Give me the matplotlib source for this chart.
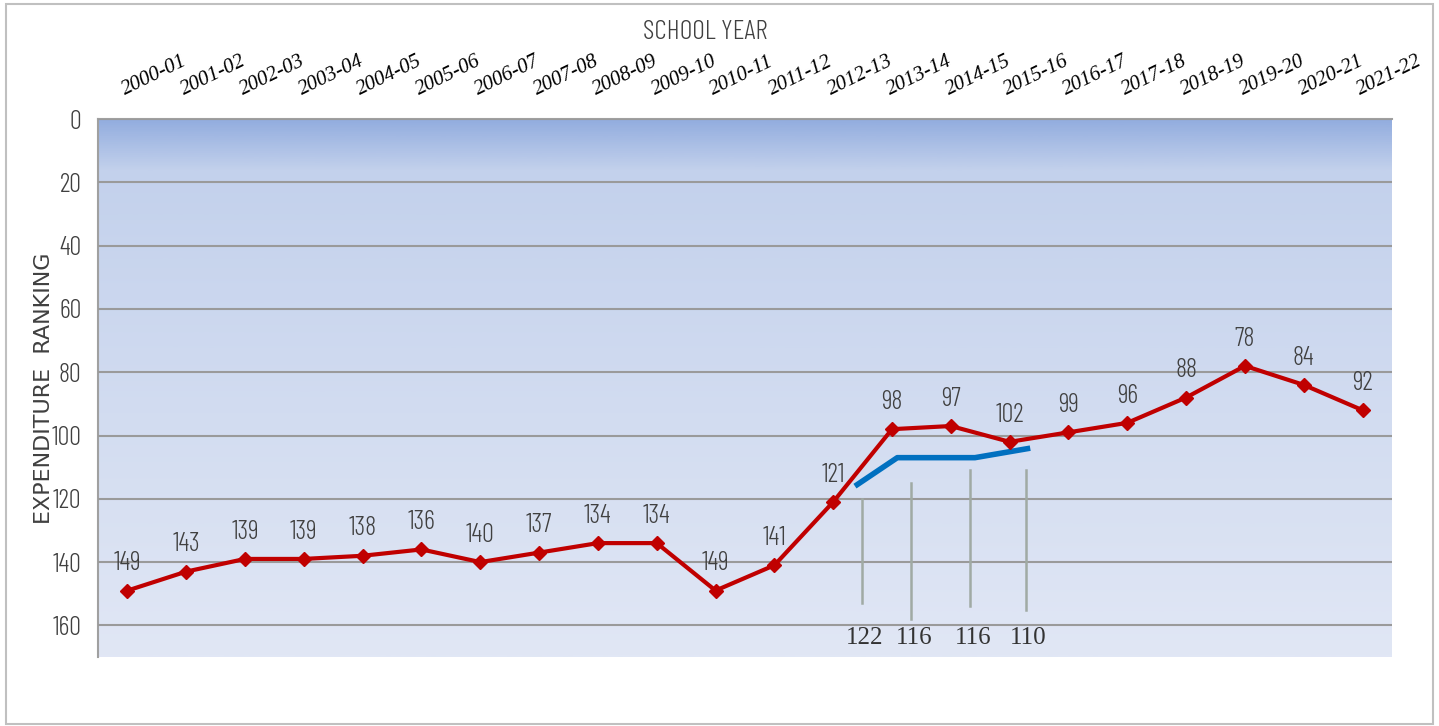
import numpy as np
from matplotlib import pyplot as plt
from matplotlib.colors import LinearSegmentedColormap
from matplotlib.patches import Rectangle

years = ["2000-01", "2001-02", "2002-03", "2003-04", "2004-05", "2005-06", "2006-07",
         "2007-08", "2008-09", "2009-10", "2010-11", "2011-12", "2012-13", "2013-14",
         "2014-15", "2015-16", "2016-17", "2017-18", "2018-19", "2019-20", "2020-21",
         "2021-22"]
ranking = [149, 143, 139, 139, 138, 136, 140, 137, 134, 134, 149, 141, 121, 98, 97,
           102, 99, 96, 88, 78, 84, 92]

# blue trend segment drawn over 2012-13 .. 2015-16
trend_x = [12.37, 13.09, 14.41, 15.35]
trend_y = [116, 107, 107, 104]

# vertical markers with their values written underneath
marker_x = [12.49, 13.33, 14.33, 15.27]
marker_top = [120, 115, 111, 111]
marker_bottom = [153, 158, 154, 155]
marker_labels = ["122", "116", "116", "110"]

narrow = ["Barlow Condensed", "DejaVu Sans"]

fig = plt.figure(figsize=(14.39, 7.26), dpi=100)
ax = fig.add_axes([0.0681, 0.0950, 0.8992, 0.7410])

x = np.arange(len(years))
ax.set_xlim(-0.5, len(years) - 0.5)
ax.set_ylim(170, 0)

# background gradient, darker blue at the top
cmap = LinearSegmentedColormap.from_list(
    "bg", [(0.0, "#93addf"), (16 / 170, "#c3d1ec"), (1.0, "#e1e7f5")])
grad = np.linspace(0, 1, 512).reshape(-1, 1)
ax.imshow(grad, cmap=cmap, aspect="auto", extent=[-0.5, len(years) - 0.5, 170, 0],
          zorder=0)

ax.set_yticks(range(0, 161, 20))
ax.yaxis.grid(True, color="#9a9a9a", linewidth=1.5, zorder=1)
ax.set_axisbelow(False)
for s in ["right", "bottom"]:
    ax.spines[s].set_visible(False)
ax.spines["left"].set_color("#a0a0a0")
ax.spines["left"].set_linewidth(1.5)
ax.spines["top"].set_color("#a0a0a0")
ax.spines["top"].set_linewidth(1.5)

ax.xaxis.tick_top()
ax.set_xticks(x, labels=years)
ax.tick_params(axis="x", length=0, pad=14)
ax.tick_params(axis="y", length=0, pad=12, labelcolor="#404040")

ax.plot(x, ranking, color="#c00000", linewidth=3, marker="D", markersize=7,
        zorder=4)
for xi, v in zip(x, ranking):
    ax.annotate(str(v), (xi, v), xytext=(0, 11), textcoords="offset points",
                ha="center", va="bottom", fontsize=19, fontweight=300,
                color="#404040", family=narrow, zorder=5)

ax.plot(trend_x, trend_y, color="#0070c0", linewidth=4, solid_capstyle="butt",
        zorder=3)
for mx, t, b, lab in zip(marker_x, marker_top, marker_bottom, marker_labels):
    ax.plot([mx, mx], [t, b], color="#a0aaa4", linewidth=1.8, zorder=3)
    ax.text(mx + 0.05, 160.5, lab, ha="center", va="top", fontsize=18,
            family="Liberation Serif", color="#333333", zorder=5)

ax.set_ylabel("EXPENDITURE  RANKING", fontsize=16, color="#404040",
              family="DejaVu Sans")
ax.yaxis.set_label_coords(-0.034, 0.5)
fig.text(0.49, 0.956, "SCHOOL YEAR", ha="center", va="center", fontsize=20,
         fontweight=300, color="#404040", family=narrow)

# style the tick labels last so nothing resets them
for tick in ax.xaxis.get_major_ticks():
    for lab in (tick.label1, tick.label2):
        lab.set_family("Liberation Serif")
        lab.set_style("italic")
        lab.set_fontsize(15)
        lab.set_rotation(26)
        lab.set_rotation_mode("anchor")
        lab.set_ha("left")
        lab.set_va("bottom")
for tick in ax.yaxis.get_major_ticks():
    tick.label1.set_family(narrow)
    tick.label1.set_fontweight(300)
    tick.label1.set_fontsize(19)

# thin frame around the whole chart
fig.patches.append(Rectangle((0.004, 0.003), 0.992, 0.992, transform=fig.transFigure,
                             fill=False, edgecolor="#c0c0c0", linewidth=1.5))

fig.savefig("out.png", dpi=100)
